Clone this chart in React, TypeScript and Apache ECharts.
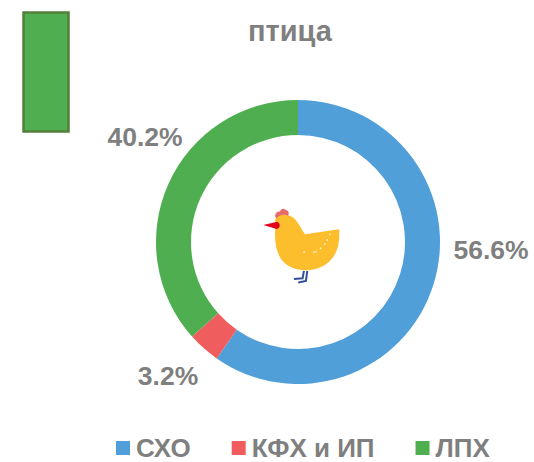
import React, { useEffect, useRef } from "react";
import * as echarts from "echarts";

const titleText = "птица";
const categories = ["СХО", "КФХ и ИП", "ЛПХ"];
const values = [59.7, 3.7, 36.6];
const labels = ["56.6%", "3.2%", "40.2%"];
const colors = ["#519fd9", "#ef5d5f", "#4fae4f"];
const labelSpots = [[491, 250], [168, 376], [145, 137]];
const dots = [[162, 172], [192, 172], [198, 170], [212, 160], [225, 147], [232, 135], [240, 118]];

echarts.graphic.registerShape("henBody", echarts.graphic.extendPath("M76 72 C88 52 122 56 138 76 C150 92 158 108 165 118 L268 103 C270 150 262 185 225 210 C190 232 135 232 105 205 C80 185 72 140 76 100 Z", {}));
echarts.graphic.registerShape("henComb", echarts.graphic.extendPath("M76 66 C74 54 84 48 90 50 C92 40 104 38 108 46 C116 46 118 54 115 62 C100 56 88 60 80 70 Z", {}));
echarts.graphic.registerShape("henBeak", echarts.graphic.extendPath("M40 90 L82 80 C92 86 92 98 80 102 Z", {}));

export default function App() {
  const ref = useRef<HTMLDivElement>(null);
  useEffect(() => {
    document.body.style.margin = "0";
    const chart = echarts.init(ref.current!, null, { renderer: "svg" });
    const font = "'Liberation Sans', Arial, sans-serif";
    const henScale = { x: 250, y: 195, scaleX: 1 / 3, scaleY: 1 / 3 };
    chart.setOption({
      animation: false,
      backgroundColor: "#ffffff",
      title: {
        text: titleText,
        left: 285,
        top: 11,
        textAlign: "center",
        textStyle: { fontFamily: font, fontSize: 29, fontWeight: "bold", color: "#7f7f7f" },
      },
      legend: {
        data: categories,
        left: 111,
        top: 430,
        padding: 5,
        itemWidth: 14,
        itemHeight: 14,
        itemGap: 41,
        icon: "rect",
        textStyle: { fontFamily: font, fontSize: 26, lineHeight: 22, fontWeight: "bold", color: "#7f7f7f", padding: [0, 0, 0, 1] },
      },
      series: [
        {
          type: "pie",
          center: [298, 242],
          radius: [107, 142],
          startAngle: 90,
          clockwise: true,
          silent: true,
          label: {
            show: true,
            position: "outside",
            overflow: "none",
            formatter: (p: any) => labels[p.dataIndex],
            fontFamily: font,
            fontSize: 26.5,
            fontWeight: "bold",
            color: "#7f7f7f",
          },
          labelLine: { show: false },
          labelLayout: (p: any) => ({
            x: labelSpots[p.dataIndex][0],
            y: labelSpots[p.dataIndex][1],
            align: "center",
            verticalAlign: "middle",
          }),
          data: categories.map((name, i) => ({ name, value: values[i], itemStyle: { color: colors[i] } })),
        },
      ],
      graphic: [
        { type: "rect", shape: { x: 23.5, y: 12.5, width: 45, height: 119 }, style: { fill: "#4fae4f", stroke: "#54803c", lineWidth: 2.5 } },
        { type: "rect", shape: { x: 372, y: 316, width: 2, height: 2 }, style: { fill: "#ffffff" } },
        { type: "polyline", ...henScale, shape: { points: [[162, 228], [158, 250], [132, 252]] }, style: { fill: "none", stroke: "#33509c", lineWidth: 6 } },
        { type: "polyline", ...henScale, shape: { points: [[172, 228], [168, 258], [145, 263]] }, style: { fill: "none", stroke: "#33509c", lineWidth: 6 } },
        { type: "henBody", ...henScale, style: { fill: "#fdbe2d" } },
        { type: "henComb", ...henScale, style: { fill: "#ea6a6a" } },
        { type: "henBeak", ...henScale, style: { fill: "#e2001a" } },
        ...dots.map(([cx, cy]) => ({ type: "circle", ...henScale, shape: { cx, cy, r: 2.5 }, style: { fill: "#fff3d0" } })),
      ],
    });
    return () => chart.dispose();
  }, []);
  return <div ref={ref} style={{ width: 534, height: 462 }} />;
}
